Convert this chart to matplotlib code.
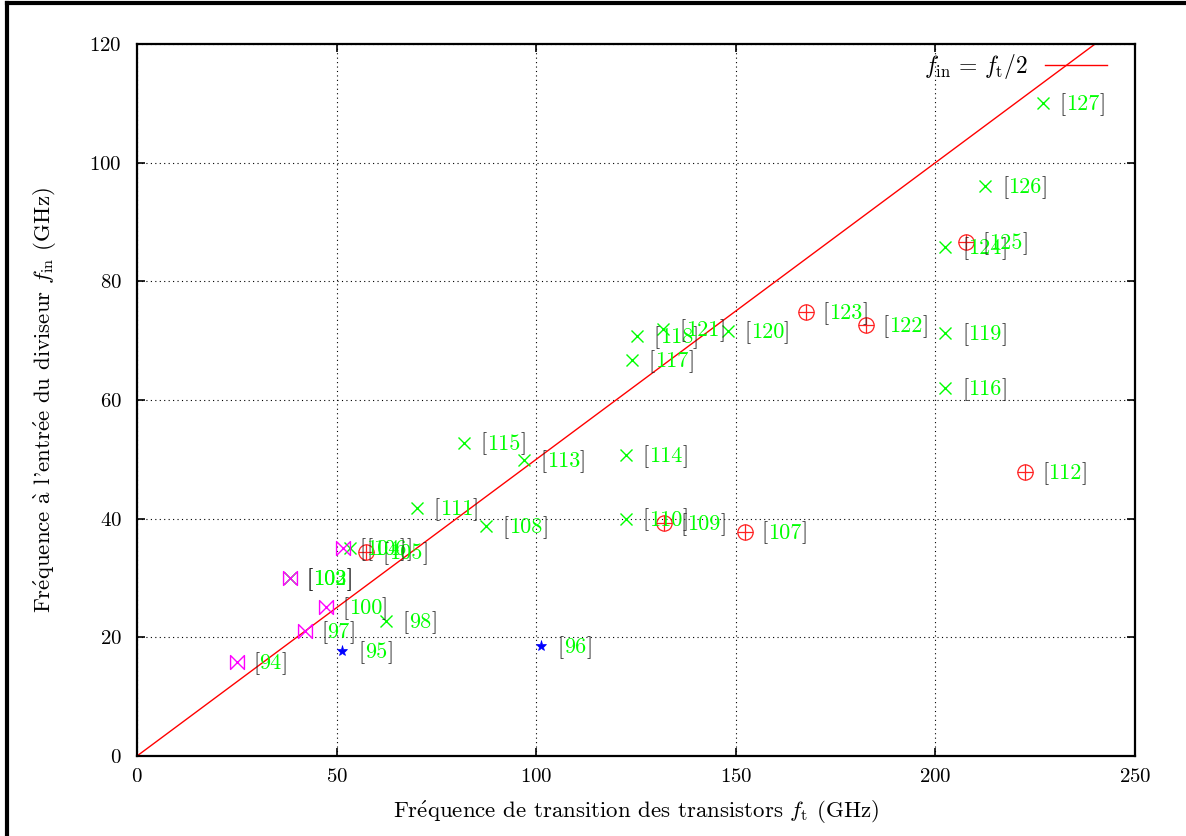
import numpy as np
import matplotlib
matplotlib.use("Agg")
import matplotlib.pyplot as plt
from matplotlib.path import Path
from matplotlib.lines import Line2D
from matplotlib.offsetbox import TextArea, HPacker, AnnotationBbox

plt.rcParams['font.family'] = 'serif'
plt.rcParams['font.serif'] = ['cmr10']
plt.rcParams['mathtext.fontset'] = 'cm'
plt.rcParams['axes.formatter.use_mathtext'] = True
plt.rcParams['font.size'] = 15

# Data (f_t in GHz, f_in in GHz, reference number)
cross_ref = [98, 103, 106, 108, 110, 111, 113, 114, 115, 116, 117, 118, 119, 120, 121, 124, 126, 127]
cross_ft = [62.4, 38.3, 53.4, 87.4, 122.5, 70.1, 96.9, 122.5, 81.9, 202.5, 124.0, 125.2, 202.5, 148.0, 131.8, 202.5, 212.5, 227.0]
cross_fin = [22.75, 30.0, 35.0, 38.8, 40.0, 41.8, 49.9, 50.7, 52.8, 62.0, 66.7, 70.8, 71.3, 71.6, 72.0, 85.8, 96.0, 110.0]

oplus_ref = [105, 107, 109, 112, 122, 123, 125]
oplus_ft = [57.4, 152.3, 132.0, 222.5, 182.6, 167.6, 207.7]
oplus_fin = [34.4, 37.8, 39.3, 47.9, 72.6, 74.8, 86.6]

bowtie_ref = [94, 97, 100, 102, 104]
bowtie_ft = [25.0, 42.0, 47.3, 38.3, 51.6]
bowtie_fin = [15.8, 21.0, 25.1, 30.0, 35.0]

star_ref = [95, 96]
star_ft = [51.4, 101.2]
star_fin = [17.7, 18.5]

GREEN = '#00ff00'
RED = '#ff2020'
MAGENTA = '#ff00ff'
BLUE = '#0000ff'

bowtie = Path([(-1, 1), (-1, -1), (1, 1), (1, -1), (-1, 1)],
              [Path.MOVETO, Path.LINETO, Path.LINETO, Path.LINETO, Path.CLOSEPOLY])

fig = plt.figure(figsize=(11.86, 8.36), dpi=100)
ax = fig.add_axes([137 / 1186, 80 / 836, 998 / 1186, 712 / 836])

# f_in = f_t / 2
ft_line = np.array([0, 250])
ax.plot(ft_line, ft_line / 2, color='red', lw=1.0, label=r'$f_{\rm in}\,=\,f_{\rm t}/2$')

ax.plot(cross_ft, cross_fin, 'x', color=GREEN, ms=9, mew=1.0, ls='none')
ax.plot(oplus_ft, oplus_fin, 'o', color=RED, mfc='none', ms=11, mew=0.9, ls='none')
ax.plot(oplus_ft, oplus_fin, '+', color=RED, ms=11, mew=0.9, ls='none')
ax.plot(bowtie_ft, bowtie_fin, marker=bowtie, color=MAGENTA, mfc='none', ms=10, mew=1.0, ls='none')
ax.plot(star_ft, star_fin, '*', color=BLUE, ms=8, mew=0.5, ls='none')


def add_label(x, y, ref):
    parts = [TextArea('[', textprops=dict(color='#222222', size=16)),
             TextArea(str(ref), textprops=dict(color=GREEN, size=16)),
             TextArea(']', textprops=dict(color='#222222', size=16))]
    box = HPacker(children=parts, align='baseline', pad=0, sep=0)
    ab = AnnotationBbox(box, (x, y), xybox=(12, -1), xycoords='data',
                        boxcoords='offset points', box_alignment=(0, 0.5),
                        frameon=False, pad=0, annotation_clip=False)
    ax.add_artist(ab)


for xs, ys, refs in [(cross_ft, cross_fin, cross_ref), (oplus_ft, oplus_fin, oplus_ref),
                     (bowtie_ft, bowtie_fin, bowtie_ref), (star_ft, star_fin, star_ref)]:
    for x, y, r in zip(xs, ys, refs):
        add_label(x, y, r)

ax.set_xlim(0, 250)
ax.set_ylim(0, 120)
ax.set_xticks(np.arange(0, 251, 50))
ax.set_yticks(np.arange(0, 121, 20))
ax.grid(True, color='black', ls=(0, (1, 3)), lw=0.8)
ax.tick_params(direction='in', length=6, width=1.2, top=True, right=True, labelsize=15)
ax.tick_params(axis='x', pad=9)
ax.tick_params(axis='y', pad=11)
for s in ax.spines.values():
    s.set_linewidth(1.6)

ax.set_xlabel(r'Fr$\mathrm{\acute{e}}$quence de transition des transistors $f_{\rm t}$ (GHz)',
              fontsize=16.5, labelpad=9)
ax.set_ylabel(r"Fr$\mathrm{\acute{e}}$quence $\mathrm{\grave{a}}$ l'entr$\mathrm{\acute{e}}$e du diviseur $f_{\rm in}$ (GHz)",
              fontsize=16.5, labelpad=22)

ax.legend(loc='upper right', frameon=False, markerfirst=False, handlelength=2.6,
          handletextpad=0.75, bbox_to_anchor=(0.993, 1.018), fontsize=17)

# outer frame (left and top visible)
fig.add_artist(Line2D([7 / 1186, 7 / 1186], [0, 1 - 3 / 836], transform=fig.transFigure, color='black', lw=3))
fig.add_artist(Line2D([7 / 1186, 1], [1 - 3 / 836, 1 - 3 / 836], transform=fig.transFigure, color='black', lw=3))

fig.savefig('out.png', dpi=100)
